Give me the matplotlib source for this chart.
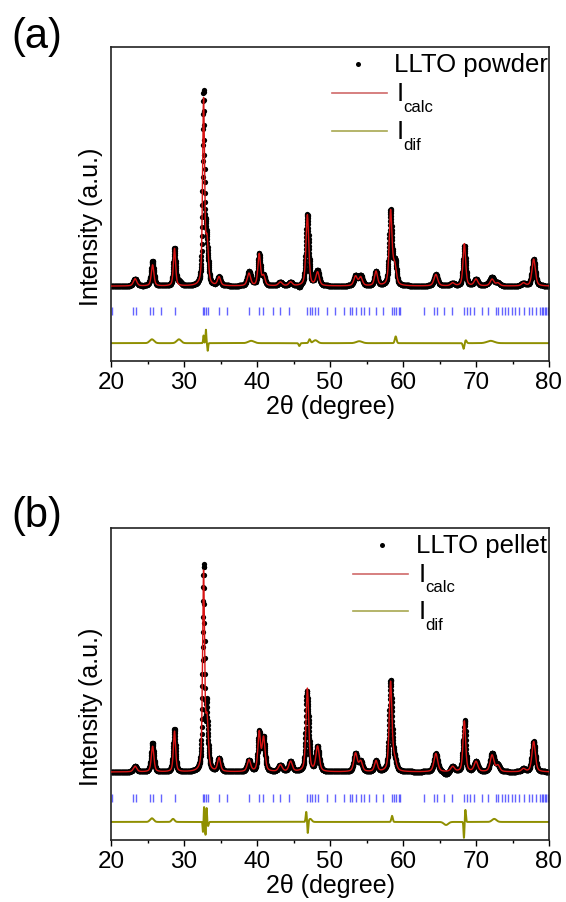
import numpy as np
import matplotlib
matplotlib.use("Agg")
import matplotlib.pyplot as plt

plt.rcParams['font.family'] = ['Liberation Sans', 'DejaVu Sans']

# ---------------- data ----------------
# peak positions (2theta, deg), widths (FWHM, deg)
peak_pos = [23.3, 25.7, 28.7, 32.68, 33.15, 34.8, 38.9, 40.3, 40.9, 43.2, 44.6,
            46.9, 48.3, 53.5, 54.2, 56.3, 58.3, 58.85, 64.5, 66.8, 68.4, 70.0,
            72.2, 73.0, 76.5, 77.9]
peak_fwhm = [0.55, 0.42, 0.36, 0.32, 0.42, 0.48, 0.55, 0.42, 0.48, 0.6, 0.55,
             0.45, 0.55, 0.55, 0.55, 0.48, 0.45, 0.55, 0.6, 0.6, 0.42, 0.6,
             0.6, 0.6, 0.6, 0.55]
# relative heights above background (calculated profile)
height_powder = [0.038, 0.11, 0.195, 0.96, 0.22, 0.045, 0.065, 0.165, 0.05, 0.02, 0.02,
                 0.37, 0.07, 0.05, 0.045, 0.075, 0.385, 0.10, 0.06, 0.015, 0.22, 0.035,
                 0.035, 0.015, 0.015, 0.14]
height_pellet = [0.028, 0.126, 0.20, 0.97, 0.24, 0.066, 0.057, 0.19, 0.165, 0.033, 0.05,
                 0.41, 0.123, 0.09, 0.05, 0.053, 0.44, 0.05, 0.09, 0.025, 0.25, 0.05,
                 0.082, 0.03, 0.015, 0.15]

# residual (obs - calc) features: position, amplitude, width
resid_pos_powder = [25.6, 29.3, 32.68, 33.0, 33.25, 39.2, 45.8, 47.2, 48.0, 54.0, 59.0, 68.3, 68.6, 72.0]
resid_amp_powder = [0.02, 0.02, 0.04, 0.07, -0.04, 0.012, -0.015, 0.02, 0.015, 0.01, 0.035, -0.03, 0.015, 0.012]
resid_wid_powder = [0.3, 0.3, 0.06, 0.06, 0.06, 0.4, 0.1, 0.12, 0.3, 0.4, 0.12, 0.1, 0.12, 0.5]

resid_pos_pellet = [25.6, 28.5, 32.6, 32.75, 32.95, 33.1, 33.3, 46.75, 46.95, 47.3, 58.5, 65.9, 68.35, 68.55, 72.5]
resid_amp_pellet = [0.018, 0.015, -0.05, 0.075, -0.065, 0.07, -0.02, 0.05, -0.06, 0.015, 0.03, -0.015, -0.08, 0.06, 0.015]
resid_wid_pellet = [0.25, 0.2, 0.05, 0.05, 0.05, 0.05, 0.08, 0.08, 0.07, 0.2, 0.1, 0.3, 0.06, 0.07, 0.3]

# Bragg reflection positions
bragg_pos = [20.2, 22.95, 23.4, 25.3, 25.8, 26.85, 28.75, 32.6, 32.75, 33.0, 33.3,
             34.8, 35.85, 38.95, 40.3, 40.85, 42.15, 43.15, 44.35, 46.9, 47.25, 47.55,
             47.9, 48.35, 49.55, 50.7, 51.9, 52.75, 53.05, 53.5, 54.25, 54.7, 55.35,
             56.3, 57.3, 58.45, 58.8, 59.1, 59.45, 59.65, 62.9, 64.25, 64.6, 65.6,
             66.75, 68.4, 68.7, 69.2, 69.7, 70.8, 71.7, 72.7, 73.0, 73.5, 74.0, 74.4,
             74.9, 75.3, 75.9, 76.6, 77.2, 77.7, 78.2, 78.8, 79.0, 79.2, 79.4, 79.6, 79.8]

xticks = [20, 30, 40, 50, 60, 70, 80]
sample_names = ["LLTO powder", "LLTO pellet"]
panel_labels = ["(a)", "(b)"]

# ---------------- helpers ----------------
tt = np.arange(20.0, 80.0001, 0.02)


def profile(pos, hts, fw):
    y = np.zeros_like(tt)
    for p, h, w in zip(pos, hts, fw):
        g = 0.5 * w
        lor = 1.0 / (1.0 + ((tt - p) / g) ** 2)
        gau = np.exp(-np.log(2) * ((tt - p) / g) ** 2)
        y += h * (0.5 * lor + 0.5 * gau)
    return y


def residual(pos, amp, wid):
    y = np.zeros_like(tt)
    for p, a, w in zip(pos, amp, wid):
        y += a * np.exp(-0.5 * ((tt - p) / w) ** 2)
    return y


W, H = 566, 903
fig = plt.figure(figsize=(W / 100, H / 100), dpi=100)

panels = [
    dict(top=48, bot=362, heights=height_powder, rp=resid_pos_powder, ra=resid_amp_powder,
         rw=resid_wid_powder, ylo=-0.39, yhi=1.245, tick_c=-0.13, tick_h=0.021, dif=-0.297,
         label_y=227, plab_y=37, leg=dict(dot=(358, 65), txt=(394, 65), calc=(94, 108), dif=(132, 145),
                                           line=(332, 387), I=397)),
    dict(top=529, bot=841, heights=height_pellet, rp=resid_pos_pellet, ra=resid_amp_pellet,
         rw=resid_wid_pellet, ylo=-0.335, yhi=1.202, tick_c=-0.128, tick_h=0.02, dif=-0.246,
         label_y=707, plab_y=516, leg=dict(dot=(382, 546), txt=(416, 546), calc=(575, 588), dif=(612, 626),
                                            line=(353, 408), I=419)),
]

L, R = 111, 549
red = '#d81414'
olive = '#8f8f00'

for i, pn in enumerate(panels):
    ax = fig.add_axes([L / W, 1 - pn['bot'] / H, (R - L) / W, (pn['bot'] - pn['top']) / H])
    calc = profile(peak_pos, pn['heights'], peak_fwhm)
    res = residual(pn['rp'], pn['ra'], pn['rw'])
    obs = calc + res
    ax.plot(tt, obs, 'o', color='black', ms=3.8, mew=0, zorder=2)
    ax.plot(tt, calc, '-', color=red, lw=1.0, zorder=3)
    ax.vlines(bragg_pos, pn['tick_c'] - pn['tick_h'], pn['tick_c'] + pn['tick_h'],
              colors='#3030ff', lw=1.0, alpha=0.75, zorder=2)
    ax.plot(tt, res + pn['dif'], '-', color=olive, lw=1.4, zorder=2)

    ax.set_xlim(20, 80)
    ax.set_ylim(pn['ylo'], pn['yhi'])
    ax.set_yticks([])
    ax.set_xticks(xticks)
    ax.set_xticks(np.arange(25, 80, 10), minor=True)
    ax.tick_params(axis='x', which='major', direction='out', length=4, width=1.0,
                   labelsize=17.5, pad=3)
    ax.tick_params(axis='x', which='minor', direction='out', length=2.5, width=1.0)
    for s in ax.spines.values():
        s.set_linewidth(1.2)
        s.set_color('#222222')
    ax.set_xlabel('2θ (degree)', fontsize=18, labelpad=1)

    fig.text(91 / W, 1 - pn['label_y'] / H, 'Intensity (a.u.)', rotation=90,
             ha='center', va='center', fontsize=18)
    fig.text(11 / W, 1 - pn['plab_y'] / H, panel_labels[i], ha='left', va='center', fontsize=30)

    # legend (drawn manually)
    lg = pn['leg']
    fig.lines.append(matplotlib.lines.Line2D([lg['dot'][0] / W], [1 - lg['dot'][1] / H], marker='o',
                                             ms=3.6, mew=0, color='black', transform=fig.transFigure))
    fig.text(lg['txt'][0] / W, 1 - lg['txt'][1] / H, sample_names[i], ha='left', va='center', fontsize=18.5)
    x0, x1 = lg['line']
    for (ly, sy), col, sub in [(lg['calc'], '#d06a6a', 'calc'), (lg['dif'], '#a8a850', 'dif')]:
        fig.lines.append(matplotlib.lines.Line2D([x0 / W, x1 / W], [1 - ly / H, 1 - ly / H],
                                                 color=col, lw=1.2, transform=fig.transFigure))
        fig.text(lg['I'] / W, 1 - ly / H, 'I', ha='left', va='center', fontsize=18.5)
        fig.text((lg['I'] + 6) / W, 1 - sy / H, sub, ha='left', va='center', fontsize=12)

fig.savefig('out.png', dpi=100)
